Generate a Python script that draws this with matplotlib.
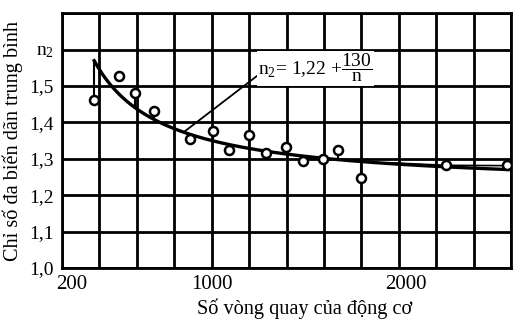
import numpy as np
import matplotlib.pyplot as plt
from matplotlib.transforms import ScaledTranslation

# Chỉ số đa biến dãn trung bình n2 theo số vòng quay của động cơ
# values

# measured points (engine speed, n2)
speed = [372, 507, 588, 690, 886, 1008, 1092, 1199, 1288, 1399, 1489, 1596, 1673, 1798, 2254, 2579]
n2_meas = [1.460, 1.527, 1.480, 1.430, 1.355, 1.375, 1.323, 1.366, 1.316, 1.331, 1.293, 1.299, 1.323, 1.247, 1.282, 1.282]
has_stem = [True, False, True, True, False, True, False, True, False, True, False, False, True, True, False, False]

# empirical fit printed on the chart: n2 = 1,22 + 130/n
fit_a = 1.22
fit_b = 130.0
fit_start, fit_end = 372, 2600

# thin second line near the right end of the curve
tail_speed = [1950, 2254, 2600]
tail_n2 = [1.289, 1.282, 1.281]

x_ticks = [200, 1000, 2000]
x_grid = np.arange(200, 2601, 200)
y_ticks = [1.0, 1.1, 1.2, 1.3, 1.4, 1.5, 1.6]
y_labels = ['1,0', '1,1', '1,2', '1,3', '1,4', '1,5', r'$\mathrm{n}_{2}$']

plt.rcParams['font.family'] = ['Liberation Serif', 'DejaVu Serif']
plt.rcParams['mathtext.fontset'] = 'custom'
plt.rcParams['mathtext.rm'] = 'Liberation Serif'
plt.rcParams['mathtext.it'] = 'Liberation Serif:italic'

fig = plt.figure(figsize=(5.18, 3.28), dpi=100)
ax = fig.add_axes([0.1197, 0.183, 0.867, 0.777])

ax.set_xlim(200, 2600)
ax.set_ylim(1.0, 1.7)

# grid
for xv in x_grid:
    ax.axvline(xv, color='black', lw=2.0, zorder=1)
for yv in np.arange(1.0, 1.71, 0.1):
    ax.axhline(yv, color='black', lw=2.0, zorder=1)

# fitted curve
n = np.linspace(fit_start, fit_end, 300)
curve = fit_a + fit_b / n
ax.plot(n, curve, color='black', lw=2.4, zorder=3)
ax.plot(tail_speed, tail_n2, color='black', lw=1.2, zorder=3)

# stems from points to the curve
for s, v, st in zip(speed, n2_meas, has_stem):
    if st:
        ax.plot([s, s], [v, fit_a + fit_b / s], color='black', lw=1.5, zorder=3)

ax.plot(speed, n2_meas, 'o', ms=6.5, mfc='white', mec='black', mew=1.8, zorder=4)

# formula label with leader line
ax.plot([850, 1246], [fit_a + fit_b / 850, 1.529], color='black', lw=1.3, zorder=3)
ax.text(1250, 1.548, r'$\mathrm{n}_{2}$= 1,22 +$\dfrac{130}{\mathrm{n}}$', fontsize=14,
        ha='left', va='center', zorder=5,
        bbox=dict(facecolor='white', edgecolor='none', pad=1))

ax.set_xticks(x_ticks)
ax.set_xticklabels([str(t) for t in x_ticks], fontsize=15)
ax.set_yticks(y_ticks)
ax.set_yticklabels(y_labels, fontsize=14)
ax.tick_params(axis='y', length=0, pad=6)
ax.tick_params(axis='x', length=0, pad=5)

# nudge x tick labels like in the scan
xlabs = ax.get_xticklabels()
for lab, dx in zip(xlabs, [0.10, 0.0, 0.07]):
    lab.set_transform(lab.get_transform() + ScaledTranslation(dx, 0, fig.dpi_scale_trans))

for sp in ax.spines.values():
    sp.set_linewidth(2)
    sp.set_color('black')

ax.set_xlabel('Số vòng quay của động cơ', fontsize=14.6)
ax.xaxis.set_label_coords(0.541, -0.118)
ax.set_ylabel('Chỉ số đa biến dãn trung bình', fontsize=14.6, labelpad=4)

plt.savefig('out.png', dpi=100, facecolor='white')
